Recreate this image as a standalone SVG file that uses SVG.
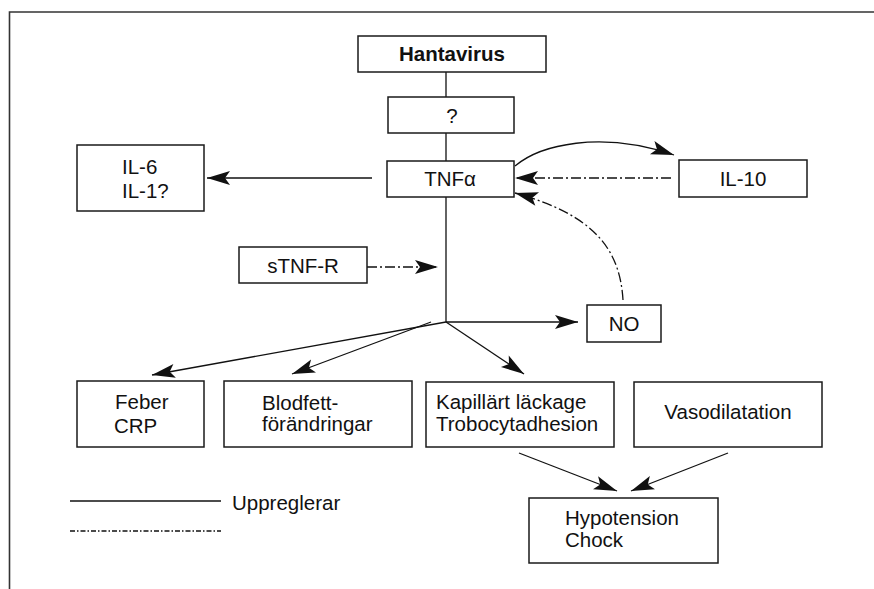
<svg xmlns="http://www.w3.org/2000/svg" width="874" height="589" viewBox="0 0 874 589">
<style>
.box{fill:#fff;stroke:#1a1a1a;stroke-width:1.5}
.t{font-family:"Liberation Sans",Arial,sans-serif;font-size:20.5px;fill:#111}
.c{text-anchor:middle}
.b{font-weight:bold}
.ln{fill:none;stroke:#111;stroke-width:1.3}
.dd{stroke-dasharray:10 3 2 3}
.arr{marker-end:url(#ah)}
</style>
<defs>
<marker id="ah" markerUnits="userSpaceOnUse" markerWidth="28" markerHeight="18" viewBox="-25 -9 26 18" refX="0" refY="0" orient="auto">
<path d="M0,0 L-23,-7 L-18,0 L-23,7 Z" fill="#111"/>
</marker>
</defs>
<rect width="874" height="589" fill="#fff"/>
<path d="M9.5,589 V12 H874" fill="none" stroke="#333" stroke-width="1.6"/>
<g id="connectors">
<path class="ln" d="M446,72 V97 M446,133 V161 M446,197 V322"/>
<path class="ln arr" d="M372,178 H207"/>
<path class="ln arr" d="M515,166 C540,145 600,130 674,155"/>
<path class="ln dd arr" d="M671,178 H515"/>
<path class="ln dd arr" d="M623,300 C620,250 595,215 515,193"/>
<path class="ln dd arr" d="M367,267 H438"/>
<path class="ln arr" d="M446,322 H578"/>
<path class="ln arr" d="M446,322 L152,375"/>
<path class="ln arr" d="M431,322 L292,374"/>
<path class="ln arr" d="M446,322 L524,374"/>
<path class="ln arr" d="M519,453 L617,491"/>
<path class="ln arr" d="M728,453 L631,491"/>
</g>
<g id="hantavirus"><rect class="box" x="358" y="36" width="188" height="36"/><text class="t c b" x="452" y="61">Hantavirus</text></g>
<g id="unknown"><rect class="box" x="388" y="97" width="126" height="36"/><text class="t c" x="452" y="123">?</text></g>
<g id="tnfa"><rect class="box" x="387" y="161" width="127" height="36"/><text class="t c" x="450" y="186">TNFα</text></g>
<g id="il6"><rect class="box" x="77" y="145" width="127" height="66"/><text class="t" x="122" y="174">IL-6</text><text class="t" x="122" y="198">IL-1?</text></g>
<g id="il10"><rect class="box" x="679" y="160" width="128" height="37"/><text class="t c" x="743" y="186">IL-10</text></g>
<g id="stnfr"><rect class="box" x="239" y="247" width="128" height="36"/><text class="t c" x="303" y="273">sTNF-R</text></g>
<g id="no"><rect class="box" x="587" y="305" width="74" height="37"/><text class="t c" x="624" y="331">NO</text></g>
<g id="feber"><rect class="box" x="77" y="381" width="127" height="66"/><text class="t" x="115" y="409">Feber</text><text class="t" x="114" y="433">CRP</text></g>
<g id="blodfett"><rect class="box" x="224" y="381" width="188" height="66"/><text class="t" x="262" y="410">Blodfett-</text><text class="t" x="262" y="431">förändringar</text></g>
<g id="kapillart"><rect class="box" x="426" y="382" width="188" height="65"/><text class="t" x="436" y="409">Kapillärt läckage</text><text class="t" x="436" y="431">Trobocytadhesion</text></g>
<g id="vasodilatation"><rect class="box" x="634" y="382" width="188" height="65"/><text class="t c" x="728" y="419">Vasodilatation</text></g>
<g id="hypotension"><rect class="box" x="529" y="498" width="189" height="65"/><text class="t" x="565" y="525">Hypotension</text><text class="t" x="565" y="547">Chock</text></g>
<g id="legend">
<path class="ln" d="M70,501 H221"/>
<text class="t" x="232" y="510">Uppreglerar</text>
<path class="ln" d="M70,531 H221" stroke-dasharray="5 2 1.5 2"/>
</g>
</svg>
